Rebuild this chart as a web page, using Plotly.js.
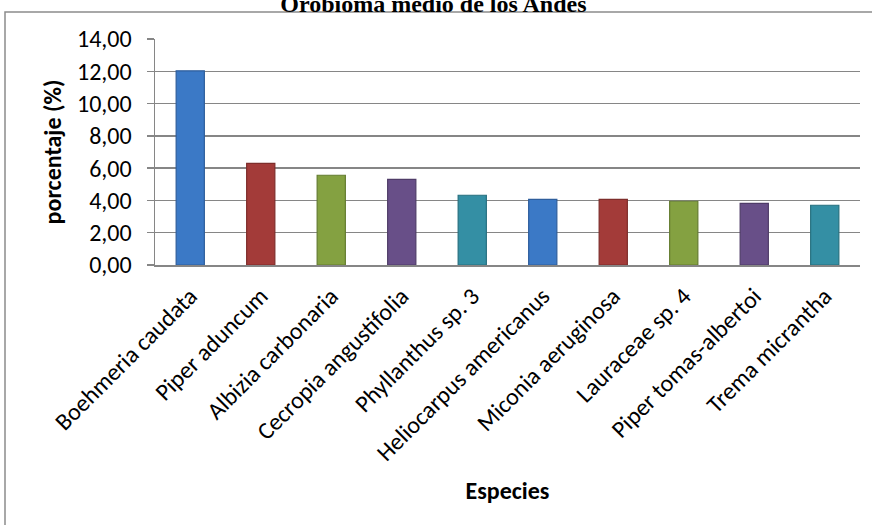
<!DOCTYPE html>
<html>
<head>
<meta charset="utf-8">
<script src="https://cdn.plot.ly/plotly-3.0.1.min.js"></script>
<style>
html,body{margin:0;padding:0;background:#fff;}
#chart{width:872px;height:525px;}
</style>
</head>
<body>
<div id="chart"></div>
<script>
const species = ["Boehmeria caudata","Piper aduncum","Albizia carbonaria","Cecropia angustifolia","Phyllanthus sp. 3","Heliocarpus americanus","Miconia aeruginosa","Lauraceae sp. 4","Piper tomas-albertoi","Trema micrantha"];
const percentages = [12.03, 6.30, 5.56, 5.31, 4.32, 4.07, 4.07, 3.95, 3.82, 3.70];
const barColors = ["#3B79C6","#A33B39","#84A141","#684F88","#348FA4","#3B79C6","#A33B39","#84A141","#684F88","#348FA4"];
const edgeColors = ["#2E5E9C","#7E2D2B","#647C30","#4F3C68","#27707F","#2E5E9C","#7E2D2B","#647C30","#4F3C68","#27707F"];
const yTicks = [0,2,4,6,8,10,12,14];

const font = "Carlito, Calibri, 'Open Sans', sans-serif";

const trace = {
  type: "bar",
  x: species,
  y: percentages,
  marker: {color: barColors, line: {color: edgeColors, width: 1.2}},
  hoverinfo: "x+y"
};

const layout = {
  width: 872, height: 525,
  margin: {l: 155, r: 12, t: 39, b: 260},
  paper_bgcolor: "#ffffff",
  plot_bgcolor: "#ffffff",
  separators: ",.",
  bargap: 0.6,
  showlegend: false,
  title: {
    text: "<b>Orobioma medio de los Andes</b>",
    font: {family: "'Liberation Serif', 'Times New Roman', serif", size: 24, color: "#000"},
    x: 0.497, xref: "container", y: 0.993, yref: "container", yanchor: "middle"
  },
  xaxis: {
    type: "category",
    tickangle: -45,
    tickfont: {family: font, size: 24, color: "#000"},
    showgrid: false,
    showline: true, linecolor: "#868686", linewidth: 1.5,
    ticks: "",
    ticklabelstandoff: 6,
    automargin: false,
    title: {text: "<b>Especies</b>", font: {family: font, size: 24, color: "#000"}, standoff: 16}
  },
  yaxis: {
    range: [0, 14],
    tickvals: yTicks,
    tickformat: ".2f",
    tickfont: {family: font, size: 24, color: "#000"},
    showgrid: true, gridcolor: "#868686", gridwidth: 1.5,
    showline: true, linecolor: "#868686", linewidth: 1.5,
    ticks: "outside", ticklen: 7, tickcolor: "#868686", tickwidth: 1.5,
    ticklabelstandoff: 10,
    zeroline: false,
    automargin: false,
    title: {text: "<b>porcentaje (%)</b>", font: {family: font, size: 24, color: "#000"}, standoff: 8}
  },
  shapes: [{
    type: "rect", xref: "paper", yref: "paper", layer: "below",
    x0: (5 - 155) / 705, x1: (890 - 155) / 705,
    y0: -1.3, y1: 1 + (39 - 12) / 226,
    line: {color: "#8C8C8C", width: 1.5}, fillcolor: "rgba(0,0,0,0)"
  }]
};

Plotly.newPlot("chart", [trace], layout, {displayModeBar: false, staticPlot: true});
</script>
</body>
</html>
